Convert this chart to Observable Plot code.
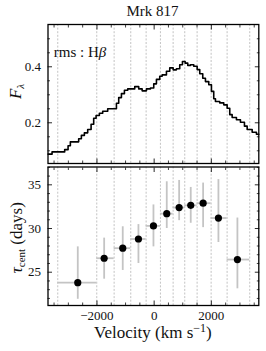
<html><head><meta charset="utf-8">
<script src="https://cdn.jsdelivr.net/npm/d3@7"></script>
<script src="https://cdn.jsdelivr.net/npm/@observablehq/plot@0.6"></script>
<style>
html,body{margin:0;background:#fff;font-family:'Liberation Serif',serif;}
#wrap{position:relative;width:266px;height:351px;color:#111;}
#title{position:absolute;left:47px;width:211px;top:2px;text-align:center;font-size:15px;line-height:18px;}
#top{position:absolute;left:0;top:0;}
#bot{position:absolute;left:0;top:164px;}
</style></head>
<body><div id="wrap"><div id="title">Mrk 817</div><div id="top"></div><div id="bot"></div></div>
<script>
// Spectrum (rms H-beta): step edges in km/s and flux values
const specVel = [-3707,-3570,-3129,-3010,-2930,-2639,-2545,-2440,-2324,-2205,-2114,-2030,-1915,-1799,-1624,-1319,-1239,-1144,-1039,-924,-679,-539,-420,-269,-129,-14,80,196,280,430,546,665,780,895,990,1084,1175,1270,1385,1504,1595,1700,1794,1910,2004,2084,2144,2294,2434,2553,2644,2728,2878,3018,3158,3253,3428,3578,3660];
const specFlux = [0.088,0.096,0.104,0.118,0.132,0.143,0.155,0.164,0.176,0.195,0.216,0.226,0.234,0.241,0.250,0.270,0.290,0.304,0.316,0.321,0.329,0.321,0.314,0.321,0.324,0.339,0.355,0.366,0.371,0.384,0.396,0.389,0.393,0.407,0.419,0.413,0.405,0.407,0.402,0.390,0.375,0.359,0.347,0.336,0.312,0.286,0.276,0.271,0.264,0.252,0.229,0.219,0.211,0.202,0.188,0.176,0.166,0.159,0.159];
// Velocity bin edges (dashed lines)
const binEdges = [-3371,-2007,-1399,-818,-280,220,664,1070,1503,1993,2552,3343];
// Lag measurements per bin
const lagVel = [-2671,-1748,-1098,-549,-24,441,874,1280,1713,2248,2912];
const lagTau = [23.8,26.6,27.75,28.8,30.3,31.7,32.4,32.65,32.9,31.2,26.45];
const lagLo  = [21.9,24.2,25.2,26.0,27.9,30.0,30.9,30.6,30.1,28.4,23.1];
const lagHi  = [27.9,28.9,30.2,30.45,32.7,35.35,35.5,34.7,35.2,35.6,31.2];
// Ticks
const xMajor = [-2000,0,2000];
const xMinor = [-3500,-3000,-2500,-1500,-1000,-500,500,1000,1500,2500,3000,3500];
const yTopMajor = [0.2,0.4];
const yTopMinor = [0.1,0.15,0.25,0.3,0.35,0.45,0.5];
const yBotMajor = [25,30,35];
const yBotMinor = [22,23,24,26,27,28,29,31,32,33,34,36,37];

const spec = specVel.map((v,i)=>({v, f: specFlux[i]}));
const lags = lagVel.map((v,i)=>({v, t: lagTau[i], lo: lagLo[i], hi: lagHi[i], x1: binEdges[i], x2: binEdges[i+1]}));

const xDomain = [-3712, 3660];
const fontFam = "Liberation Serif";

function tickMarks(xMaj, xMin, yMaj, yMin, showXText, showYText){
  const m = [];
  for (const a of ["bottom","top"]) {
    m.push(Plot.axisX(xMaj, {anchor:a, tickSize:-4.5, fill:"none", label:null, strokeWidth:0.9}));
    m.push(Plot.axisX(xMin, {anchor:a, tickSize:-2.5, fill:"none", label:null, strokeWidth:0.8}));
  }
  for (const a of ["left","right"]) {
    m.push(Plot.axisY(yMaj, {anchor:a, tickSize:-4.5, fill:"none", label:null, strokeWidth:0.9}));
    m.push(Plot.axisY(yMin, {anchor:a, tickSize:-2.5, fill:"none", label:null, strokeWidth:0.8}));
  }
  if (showXText) m.push(Plot.axisX(xMaj, {anchor:"bottom", tickSize:0, tickPadding:5, label:null, fontSize:13, fontFamily: fontFam, tickFormat: d => d < 0 ? "\u2212" + Math.abs(d) : String(d)}));
  m.push(Plot.axisY(yMaj, {anchor:"left", tickSize:0, tickPadding:7, label:null, fontSize:13, fontFamily: fontFam, tickFormat: showYText}));
  return m;
}

const topPlot = Plot.plot({
  width: 266, height: 166,
  marginLeft: 47.5, marginRight: 7.7, marginTop: 24, marginBottom: 3,
  style: {background: "none", fontFamily: fontFam, fontSize: "13px", overflow: "visible"},
  x: {domain: xDomain},
  y: {domain: [0.0546, 0.551]},
  marks: [
    Plot.ruleX(binEdges, {stroke: "#9a9a9a", strokeWidth: 0.6, strokeDasharray: "2,1.6"}),
    Plot.line(spec, {x: "v", y: "f", curve: "step-after", stroke: "#000", strokeWidth: 1.6}),
    ...tickMarks(xMajor, xMinor, yTopMajor, yTopMinor, false, d => d.toFixed(1)),
    Plot.frame({stroke: "#000", strokeWidth: 1.3})
  ]
});
document.getElementById("top").append(topPlot);

const botPlot = Plot.plot({
  width: 266, height: 187,
  marginLeft: 47.5, marginRight: 7.7, marginTop: 2.5, marginBottom: 46,
  style: {background: "none", fontFamily: fontFam, fontSize: "13px", overflow: "visible"},
  x: {domain: xDomain},
  y: {domain: [21.19, 37.04]},
  marks: [
    Plot.ruleX(binEdges, {stroke: "#9a9a9a", strokeWidth: 0.6, strokeDasharray: "2,1.6"}),
    Plot.ruleY(lags, {x1: "x1", x2: "x2", y: "t", stroke: "#c4c4c4", strokeWidth: 1.8}),
    Plot.ruleX(lags, {x: "v", y1: "lo", y2: "hi", stroke: "#c4c4c4", strokeWidth: 1.8}),
    Plot.dot(lags, {x: "v", y: "t", r: 3.6, fill: "#000", stroke: "none"}),
    ...tickMarks(xMajor, xMinor, yBotMajor, yBotMinor, true, d => String(d)),
    Plot.frame({stroke: "#000", strokeWidth: 1.3})
  ]
});
document.getElementById("bot").append(botPlot);

const tsvg = d3.select(topPlot);
const ann = tsvg.append("text").attr("x", 80).attr("y", 57).attr("font-size", 15).attr("fill", "#111").attr("font-family", fontFam);
ann.append("tspan").text("rms : H");
ann.append("tspan").attr("font-style", "italic").text("\u03B2");
const fy = (24 + 163) / 2 - 2;
const fl = tsvg.append("text").attr("transform", `translate(21,${fy}) rotate(-90)`).attr("text-anchor", "middle").attr("font-size", 17).attr("fill", "#111").attr("font-family", fontFam);
fl.append("tspan").attr("font-style", "italic").text("F");
fl.append("tspan").attr("font-size", 11).attr("dy", 3).attr("font-style", "italic").text("\u03BB");

const bsvg = d3.select(botPlot);
const ty = (2.5 + 141) / 2 + 2;
const tl = bsvg.append("text").attr("transform", `translate(22,${ty}) rotate(-90)`).attr("text-anchor", "middle").attr("font-size", 17).attr("fill", "#111").attr("font-family", fontFam);
tl.append("tspan").attr("font-style", "italic").text("\u03C4");
tl.append("tspan").attr("font-size", 11).attr("dy", 3).text("cent");
tl.append("tspan").attr("dy", -3).text(" (days)");

const xl = bsvg.append("text").attr("x", (47.5 + 258.3) / 2).attr("y", 174).attr("text-anchor", "middle").attr("font-size", 17).attr("fill", "#111").attr("font-family", fontFam);
xl.append("tspan").text("Velocity (km s");
xl.append("tspan").attr("font-size", 12).attr("dy", -6).text("\u22121");
xl.append("tspan").attr("dy", 6).text(")");
</script></body></html>
